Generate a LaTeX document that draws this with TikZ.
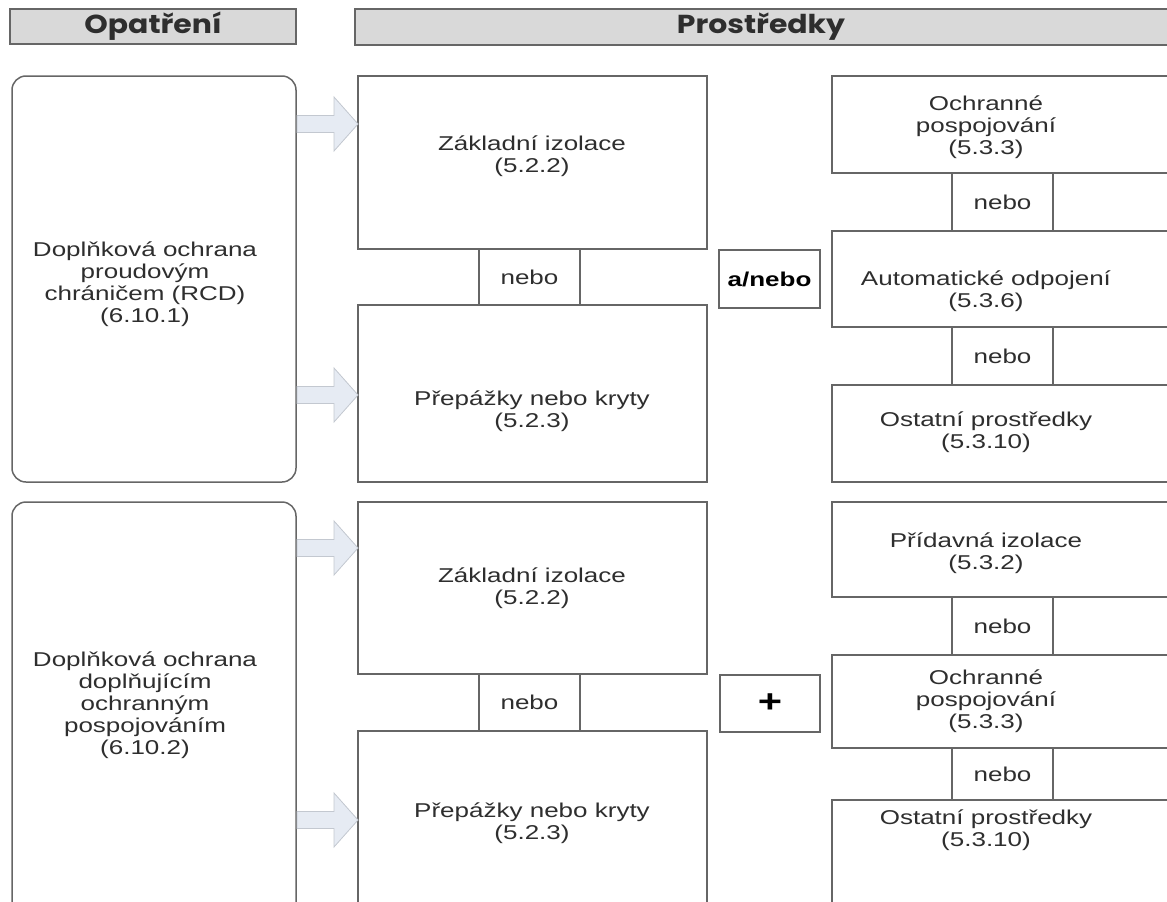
\documentclass[tikz,border=0pt]{standalone}
\usepackage{fontspec}
\setmainfont[FakeStretch=1.3]{Liberation Sans}
\newfontfamily\hdfont[FakeStretch=1.15]{Poppins}
\definecolor{linec}{HTML}{666666}
\definecolor{hdfill}{HTML}{D9D9D9}
\definecolor{txtc}{HTML}{2E2E2E}
\definecolor{arrfill}{HTML}{E6EBF3}
\definecolor{arrline}{HTML}{C3C8D0}
\begin{document}
\begin{tikzpicture}[x=1pt,y=-1pt,
  box/.style={draw=linec, line width=1.5pt, fill=white, anchor=north west, inner sep=0pt, outer sep=0pt},
  rbox/.style={box, rounded corners=14pt},
  hbox/.style={box, fill=hdfill},
  txt/.style={font=\fontsize{20}{22}\selectfont, text=txtc, align=center, inner sep=0pt},
  btxt/.style={font=\fontsize{20}{22}\selectfont\bfseries, text=black, align=center, inner sep=0pt},
  hdtxt/.style={font=\hdfont\bfseries\fontsize{26}{28}\selectfont, text=txtc, inner sep=0pt},
  blockarr/.style={fill=arrfill, draw=arrline, line width=0.8pt}
]
\clip (0,0) rectangle (1167,902);
\useasboundingbox (0,0) rectangle (1167,902);

% headers
\node[hbox, minimum width=286pt, minimum height=35pt] (h1) at (10,9) {};
\node[hdtxt] (h1t) at (h1.center) {Opatření};
\node[hbox, minimum width=830pt, minimum height=36pt] (h2) at (355,9) {};
\node[hdtxt] (h2t) at (761,27) {Prostředky};

% left boxes
\node[rbox, minimum width=284pt, minimum height=406pt] (L1) at (12,76) {};
\node[rbox, minimum width=284pt, minimum height=430pt] (L2) at (12,502) {};
\node[txt] (L1t) at (145,284) {Doplňková ochrana\\proudovým\\chráničem (RCD)\\(6.10.1)};
\node[txt] (L2t) at (145,705) {Doplňková ochrana\\doplňujícím\\ochranným\\pospojováním\\(6.10.2)};

% middle column, section 1
\node[box, minimum width=349pt, minimum height=173pt] (mA1) at (358,76) {};
\node[box, minimum width=349pt, minimum height=177pt] (mB1) at (358,305) {};
\node[box, minimum width=101pt, minimum height=56pt] (nb1) at (479,249) {};
\node[txt] (mA1t) at (532,156) {Základní izolace\\(5.2.2)};
\node[txt] (mB1t) at (532,411) {Přepážky nebo kryty\\(5.2.3)};
\node[txt] (nb1t) at (nb1.center) {nebo};

% middle column, section 2
\node[box, minimum width=349pt, minimum height=172pt] (mA2) at (358,502) {};
\node[box, minimum width=349pt, minimum height=200pt] (mB2) at (358,731) {};
\node[box, minimum width=101pt, minimum height=57pt] (nb2) at (479,674) {};
\node[txt] (mA2t) at (532,588) {Základní izolace\\(5.2.2)};
\node[txt] (mB2t) at (532,823) {Přepážky nebo kryty\\(5.2.3)};
\node[txt] (nb2t) at (nb2.center) {nebo};

% combinators
\node[box, minimum width=101pt, minimum height=58pt] (anb) at (719,250) {};
\node[btxt] (anbt) at (anb.center) {a/nebo};
\node[box, minimum width=100pt, minimum height=57pt] (pl) at (720,675) {};
\node[btxt, font=\fontsize{32}{32}\selectfont\bfseries] (plt) at (pl.center) {+};

% right column, section 1
\node[box, minimum width=345pt, minimum height=97pt] (R1a) at (832,76) {};
\node[box, minimum width=345pt, minimum height=96pt] (R1b) at (832,231) {};
\node[box, minimum width=345pt, minimum height=97pt] (R1c) at (832,385) {};
\node[box, minimum width=101pt, minimum height=58pt] (nr1) at (952,173) {};
\node[box, minimum width=101pt, minimum height=58pt] (nr2) at (952,327) {};
\node[txt] (R1at) at (986,127) {Ochranné\\pospojování\\(5.3.3)};
\node[txt] (R1bt) at (986,291) {Automatické odpojení\\(5.3.6)};
\node[txt] (R1ct) at (986,432) {Ostatní prostředky\\(5.3.10)};
\node[txt] (nr1t) at (nr1.center) {nebo};
\node[txt] (nr2t) at (nr2.center) {nebo};

% right column, section 2
\node[box, minimum width=345pt, minimum height=95pt] (R2a) at (832,502) {};
\node[box, minimum width=345pt, minimum height=93pt] (R2b) at (832,655) {};
\node[box, minimum width=345pt, minimum height=130pt] (R2c) at (832,800) {};
\node[box, minimum width=101pt, minimum height=58pt] (nr3) at (952,597) {};
\node[box, minimum width=101pt, minimum height=52pt] (nr4) at (952,748) {};
\node[txt] (R2at) at (986,553) {Přídavná izolace\\(5.3.2)};
\node[txt] (R2bt) at (986,701) {Ochranné\\pospojování\\(5.3.3)};
\node[txt] (R2ct) at (986,830) {Ostatní prostředky\\(5.3.10)};
\node[txt] (nr3t) at (nr3.center) {nebo};
\node[txt] (nr4t) at (nr4.center) {nebo};

% block arrows from measures to means
\foreach \yy in {124,395,548,820} {
  \draw[blockarr] (297,\yy-8.5) -- (334,\yy-8.5) -- (334,\yy-27) -- (358,\yy)
     -- (334,\yy+27) -- (334,\yy+8.5) -- (297,\yy+8.5) -- cycle;
}
\end{tikzpicture}
\end{document}
